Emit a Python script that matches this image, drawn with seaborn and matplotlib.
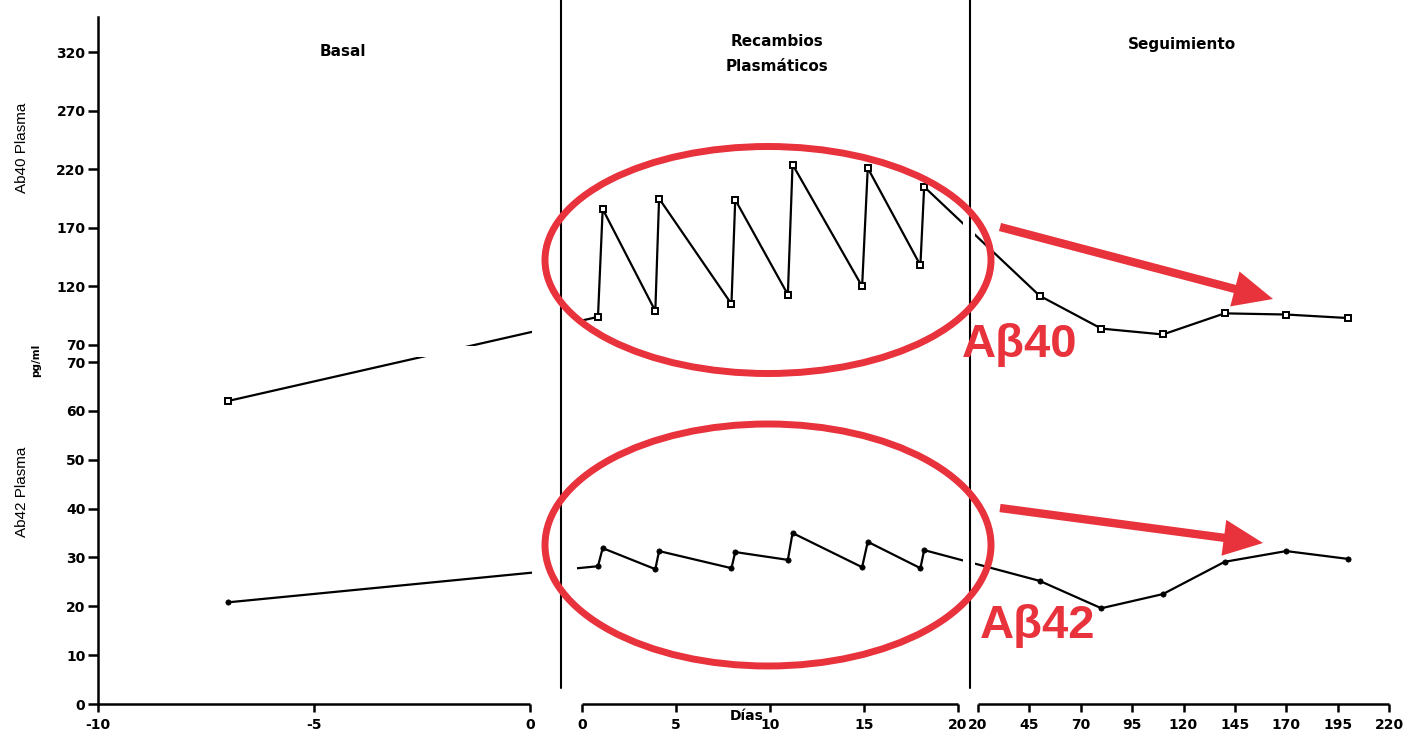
import numpy as np
import pandas as pd
import matplotlib
matplotlib.use("Agg")
import matplotlib.pyplot as plt
from matplotlib.patches import Ellipse, FancyArrowPatch, Rectangle
from matplotlib.lines import Line2D
import seaborn as sns

# --------------------------
# Data
# --------------------------
days_basal = [-7]
days_rp = [0.85, 1.1, 3.9, 4.1, 7.95, 8.15, 10.95, 11.2, 14.9, 15.2, 18.0, 18.2]
days_fu = [50, 80, 110, 140, 170, 200]

ab40_basal = [62]
ab40_rp = [94, 186, 99, 195, 105, 194, 113, 224, 120, 221, 138, 205]
ab40_fu = [112, 84, 79, 97, 96, 93]

ab42_basal = [20.8]
ab42_rp = [28.2, 31.9, 27.6, 31.3, 27.8, 31.1, 29.5, 35.0, 28.0, 33.2, 27.8, 31.5]
ab42_fu = [25.2, 19.6, 22.5, 29.1, 31.3, 29.7]

x_ticks_basal = [-10, -5, 0]
x_ticks_rp = [0, 5, 10, 15, 20]
x_ticks_fu = [20, 45, 70, 95, 120, 145, 170, 195, 220]
y_ticks_low = [0, 10, 20, 30, 40, 50, 60, 70]
y_ticks_up = [70, 120, 170, 220, 270, 320]

# --------------------------
# Layout (pixels of the 1408x736 output)
# --------------------------
W, H = 1408, 736
EPS = 1e-6
XB = (98, 530)     # basal      -10 .. 0
XR = (582, 958)    # recambios    0 .. 20
XF = (978, 1389)   # seguimiento 20 .. 220
Y0 = 704           # pixel row of y = 0
LOW = 342          # height of 0..70
GAP = 17           # axis break
UP = 58.6 / 50     # px per unit above the break
YMAX = 350
RED = "#e8323c"


# broken x axis: three linear pieces
def fwd_x(x):
    x = np.asarray(x, dtype=float)
    b = XB[1] + x * (XB[1] - XB[0]) / 10
    r = XR[0] + x * (XR[1] - XR[0]) / 20
    f = XF[0] + (x - 20) * (XF[1] - XF[0]) / 200
    return np.where(x <= 0, b, np.where(x <= 20, r, f))


def inv_x(v):
    v = np.asarray(v, dtype=float)
    b = (v - XB[1]) * 10 / (XB[1] - XB[0])
    r = np.clip((v - XR[0]) * 20 / (XR[1] - XR[0]), 0, 20)
    f = 20 + (v - XF[0]) * 200 / (XF[1] - XF[0])
    return np.where(v <= XB[1], b, np.where(v <= XR[1], r, np.where(v < XF[0], 20, f)))


# broken y axis: 0..70 stretched, 70..350 compressed
def fwd_y(y):
    y = np.asarray(y, dtype=float)
    return np.where(y <= 70, y * LOW / 70, LOW + GAP + (y - 70) * UP)


def inv_y(v):
    v = np.asarray(v, dtype=float)
    lo = v * 70 / LOW
    hi = 70 + (v - LOW - GAP) / UP
    return np.where(v <= LOW, lo, np.where(v < LOW + GAP, 70, hi))


def fx(px):
    return px / W


def fy(py):
    return 1 - py / H


sns.set_style("ticks")
plt.rcParams["font.family"] = ["DejaVu Sans"]
plt.rcParams.update({"text.color": "black", "axes.edgecolor": "black",
                     "xtick.color": "black", "ytick.color": "black",
                     "axes.labelcolor": "black"})

fig = plt.figure(figsize=(W / 100, H / 100), dpi=100)
ax = fig.add_axes([XB[0] / W, (H - Y0) / H, (XF[1] - XB[0]) / W, float(fwd_y(YMAX)) / H])

df40 = pd.DataFrame({"dia": days_basal + days_rp + days_fu,
                     "val": ab40_basal + ab40_rp + ab40_fu})
df42 = pd.DataFrame({"dia": days_basal + days_rp + days_fu,
                     "val": ab42_basal + ab42_rp + ab42_fu})

sns.lineplot(data=df40, x="dia", y="val", ax=ax, estimator=None, sort=False,
             color="black", lw=1.6, marker="s", ms=5, mfc="white",
             mec="black", mew=1.4, zorder=3)
sns.lineplot(data=df42, x="dia", y="val", ax=ax, estimator=None, sort=False,
             color="black", lw=1.6, marker="o", ms=3.8, mfc="black",
             mec="black", mew=0.5, zorder=3)

ax.set_xscale("function", functions=(fwd_x, inv_x))
ax.set_yscale("function", functions=(fwd_y, inv_y))

# three separate x axis segments
for a, b in [(-10, 0), (EPS, 20), (20 + EPS, 220)]:
    ax.plot([a, b], [0, 0], color="black", lw=1.8, clip_on=False,
            solid_capstyle="butt", zorder=4)

xt = x_ticks_basal + [EPS] + x_ticks_rp[1:] + [20 + EPS] + x_ticks_fu[1:]
xl = [str(t) for t in x_ticks_basal + x_ticks_rp + x_ticks_fu]
yt = y_ticks_low + [70 + EPS] + y_ticks_up[1:]
yl = [str(t) for t in y_ticks_low + y_ticks_up]
ax.set_xticks(xt)
ax.set_xticklabels(xl, fontweight="bold", fontsize=10)
ax.set_yticks(yt)
ax.set_yticklabels(yl, fontweight="bold", fontsize=10)
ax.tick_params(axis="x", direction="out", length=6, width=1.8, pad=4)
ax.tick_params(axis="y", direction="out", length=7, width=1.8, pad=2)

ax.set_xlim(-10, 220)
ax.set_ylim(0, YMAX)
ax.set_xlabel("")
ax.set_ylabel("")
for s in ["top", "right", "bottom"]:
    ax.spines[s].set_visible(False)
ax.spines["left"].set_linewidth(1.8)
ax.patch.set_alpha(0)

# white gaps where the lines jump across the breaks
for x0, y0, x1, y1 in [(532, 15, 577, 698), (963, 15, 975, 698), (101, 345.5, 530, 357.5)]:
    fig.add_artist(Rectangle((fx(x0), fy(y1)), (x1 - x0) / W, (y1 - y0) / H,
                             transform=fig.transFigure, color="white", lw=0, zorder=1))

# panel separators
for xs in (561, 970):
    fig.add_artist(Line2D([fx(xs), fx(xs)], [fy(0), fy(688)], color="black", lw=1.5, zorder=3))

# section titles
tkw = dict(ha="center", va="center", fontsize=11, fontweight="bold", zorder=5)
fig.text(fx(343), fy(52), "Basal", **tkw)
fig.text(fx(777), fy(54), "Recambios\nPlasmáticos", linespacing=1.9, **tkw)
fig.text(fx(1182), fy(45), "Seguimiento", **tkw)
fig.text(fx(747), fy(716), "Días", ha="center", va="center", fontsize=10, fontweight="bold")

# axis titles
fig.text(fx(22), fy(148), "Ab40 Plasma", rotation=90, ha="center", va="center",
         fontsize=11, family="Liberation Sans")
fig.text(fx(22), fy(492), "Ab42 Plasma", rotation=90, ha="center", va="center",
         fontsize=11, family="Liberation Sans")
fig.text(fx(36), fy(360), "pg/ml", rotation=90, ha="center", va="center",
         fontsize=7.5, fontweight="bold")

# red annotations
for cx, cy, ew, eh in [(768, 260, 446, 227), (768, 545, 446, 242)]:
    fig.add_artist(Ellipse((fx(cx), fy(cy)), ew / W, eh / H, transform=fig.transFigure,
                           fill=False, ec=RED, lw=5, zorder=4))

for (xa, ya), (xb, yb) in [((1000, 227), (1273, 299)), ((1000, 508), (1263, 543))]:
    fig.add_artist(FancyArrowPatch((fx(xa), fy(ya)), (fx(xb), fy(yb)), transform=fig.transFigure,
                                   arrowstyle="simple,head_length=1.42,head_width=1.3,tail_width=0.3",
                                   mutation_scale=20, color=RED, lw=0, shrinkA=0, shrinkB=0, zorder=4))

fig.text(fx(962), fy(357), "Aβ40", ha="left", va="baseline", fontsize=34,
         fontweight="bold", color=RED, family="Liberation Sans", zorder=5)
fig.text(fx(980), fy(638), "Aβ42", ha="left", va="baseline", fontsize=34,
         fontweight="bold", color=RED, family="Liberation Sans", zorder=5)

fig.savefig("out.png", dpi=100)
